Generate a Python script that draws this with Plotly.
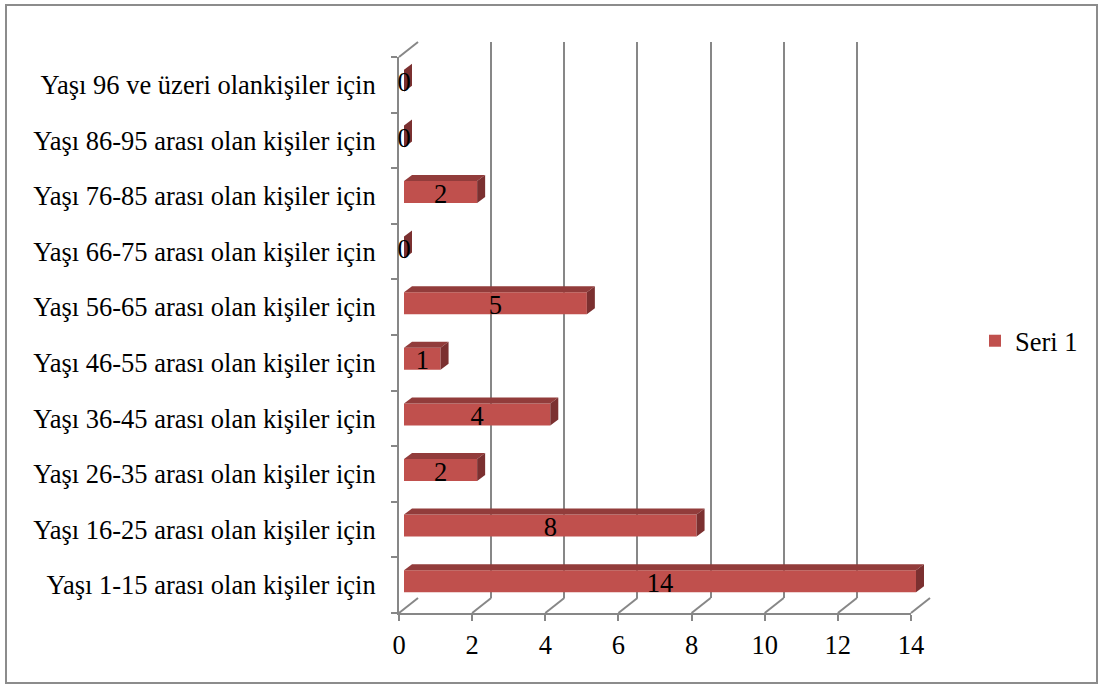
import plotly.graph_objects as go

# ---------------- data ----------------
categories = [
    "Yaşı 1-15 arası olan kişiler için",
    "Yaşı 16-25 arası olan kişiler için",
    "Yaşı 26-35 arası olan kişiler için",
    "Yaşı 36-45 arası olan kişiler için",
    "Yaşı 46-55 arası olan kişiler için",
    "Yaşı 56-65 arası olan kişiler için",
    "Yaşı 66-75 arası olan kişiler için",
    "Yaşı 76-85 arası olan kişiler için",
    "Yaşı 86-95 arası olan kişiler için",
    "Yaşı 96 ve üzeri olankişiler için",
]
values = [14, 8, 2, 4, 1, 5, 0, 2, 0, 0]
series_name = "Seri 1"
x_ticks = [0, 2, 4, 6, 8, 10, 12, 14]
x_max = 14

# ---------------- geometry / style ----------------
W, H = 1103, 686
FX0, FX1 = 399, 911          # front x-axis pixels for 0 and x_max
FY_BOT, FY_TOP = 613, 57     # front category axis pixels
N = len(categories)
PPU = (FX1 - FX0) / x_max
CAT_PX = (FY_BOT - FY_TOP) / N
WALL_D = (19, -15)           # depth of the back wall (px)
BAR_OFF = (5, -4)            # bar front face depth (px)
BAR_D = (8, -6)              # bar depth (px)
BAR_H = 22                   # bar height (px)
LABEL_DY = 4                 # data label shift down (px)

FONT = "Liberation Serif"
FS = 26.5
GRAY = "#878787"
RED = "#C0504D"
RED_TOP = "#923C3B"
RED_SIDE = "#7B3030"


def ux(px):
    return px / PPU


def uy(px):
    return -px / CAT_PX


fig = go.Figure()

# dummy trace to define the main category axis
fig.add_trace(go.Scatter(x=[None] * N, y=categories, mode="markers",
                         marker=dict(opacity=0), showlegend=False,
                         hoverinfo="skip", xaxis="x", yaxis="y"))
# dummy trace for the back-wall subplot
fig.add_trace(go.Scatter(x=[None], y=[None], mode="markers", showlegend=False,
                         hoverinfo="skip", xaxis="x2", yaxis="y2"))

# floor diagonals at each tick + top-left diagonal
fx, fy = [], []
for t in x_ticks:
    fx += [t, t + ux(WALL_D[0]), None]
    fy += [-0.5, -0.5 + uy(WALL_D[1]), None]
fx += [0, ux(WALL_D[0]), None]
fy += [N - 0.5, N - 0.5 + uy(WALL_D[1]), None]
fig.add_trace(go.Scatter(x=fx, y=fy, mode="lines", line=dict(color=GRAY, width=2),
                         showlegend=False, hoverinfo="skip", xaxis="x3", yaxis="y3"))

# bars
bx0 = ux(BAR_OFF[0])
yc = [i + uy(BAR_OFF[1]) for i in range(N)]
hh = BAR_H / CAT_PX / 2
ddx, ddy = ux(BAR_D[0]), uy(BAR_D[1])

tx, ty, sx, sy = [], [], [], []
for v, c in zip(values, yc):
    x1 = bx0 + v
    top = c + hh
    bot = c - hh
    tx += [bx0, x1, x1 + ddx, bx0 + ddx, bx0, None]
    ty += [top, top, top + ddy, top + ddy, top, None]
    sx += [x1, x1 + ddx, x1 + ddx, x1, x1, None]
    sy += [bot, bot + ddy, top + ddy, top, bot, None]

fig.add_trace(go.Scatter(x=tx, y=ty, mode="lines", fill="toself", fillcolor=RED_TOP,
                         line=dict(width=0, color=RED_TOP), showlegend=False,
                         hoverinfo="skip", xaxis="x3", yaxis="y3"))
fig.add_trace(go.Scatter(x=sx, y=sy, mode="lines", fill="toself", fillcolor=RED_SIDE,
                         line=dict(width=0, color=RED_SIDE), showlegend=False,
                         hoverinfo="skip", xaxis="x3", yaxis="y3"))
fig.add_trace(go.Bar(x=values, y=yc, base=bx0, orientation="h", width=BAR_H / CAT_PX,
                     marker=dict(color=RED, line=dict(width=0)), name=series_name,
                     showlegend=True, xaxis="x3", yaxis="y3"))

# data labels
fig.add_trace(go.Scatter(x=[bx0 + v / 2 for v in values],
                         y=[c + uy(LABEL_DY) for c in yc], mode="text",
                         text=[str(v) for v in values],
                         textfont=dict(family=FONT, size=FS, color="black"),
                         showlegend=False, hoverinfo="skip", xaxis="x3", yaxis="y3"))

fig.update_layout(
    width=W, height=H,
    margin=dict(l=0, r=0, t=0, b=0, autoexpand=False),
    paper_bgcolor="white", plot_bgcolor="rgba(0,0,0,0)",
    font=dict(family=FONT, size=FS, color="black"),
    showlegend=True,
    legend=dict(x=975 / W, y=1 - 341 / H, xanchor="left", yanchor="middle",
                font=dict(family=FONT, size=FS, color="black"),
                bgcolor="rgba(0,0,0,0)"),
    xaxis=dict(domain=[FX0 / W, FX1 / W], range=[0, x_max], anchor="y",
               tickvals=x_ticks, ticks="outside", ticklen=6, tickwidth=2,
               tickcolor=GRAY, showline=True, linecolor=GRAY, linewidth=2,
               ticklabelstandoff=1,
               showgrid=False, zeroline=False, fixedrange=True),
    yaxis=dict(domain=[1 - FY_BOT / H, 1 - FY_TOP / H], type="category",
               categoryorder="array", categoryarray=categories, range=[-0.5, N - 0.5],
               anchor="x", tickson="boundaries", ticks="outside", ticklen=6,
               tickwidth=2, tickcolor=GRAY, showline=True, linecolor=GRAY,
               ticklabelstandoff=16,
               linewidth=2, showgrid=False, zeroline=False, fixedrange=True),
    xaxis2=dict(domain=[(FX0 + WALL_D[0]) / W, (FX1 + WALL_D[0]) / W],
                range=[0, x_max], anchor="y2", tickvals=x_ticks, showticklabels=False,
                showgrid=True, gridcolor=GRAY, gridwidth=2, zeroline=False,
                showline=False, fixedrange=True),
    yaxis2=dict(domain=[1 - (FY_BOT + WALL_D[1]) / H, 1 - (FY_TOP + WALL_D[1]) / H],
                range=[0, 1], anchor="x2", showticklabels=False, showgrid=False,
                zeroline=False, showline=False, fixedrange=True),
    xaxis3=dict(domain=[0, 1], range=[-FX0 / PPU, (W - FX0) / PPU], anchor="y3",
                visible=False, fixedrange=True),
    yaxis3=dict(domain=[0, 1],
                range=[(FY_BOT - H) / CAT_PX - 0.5, FY_BOT / CAT_PX - 0.5],
                anchor="x3", visible=False, fixedrange=True),
    shapes=[dict(type="rect", xref="paper", yref="paper",
                 x0=6 / W, x1=1097 / W, y0=1 - 683 / H, y1=1 - 5 / H,
                 line=dict(color="#8C8C8C", width=2), fillcolor="rgba(0,0,0,0)")],
)

fig.write_html("out.html", config={"displayModeBar": False},
               post_script="document.body.style.margin='0';document.body.style.overflow='hidden';")
